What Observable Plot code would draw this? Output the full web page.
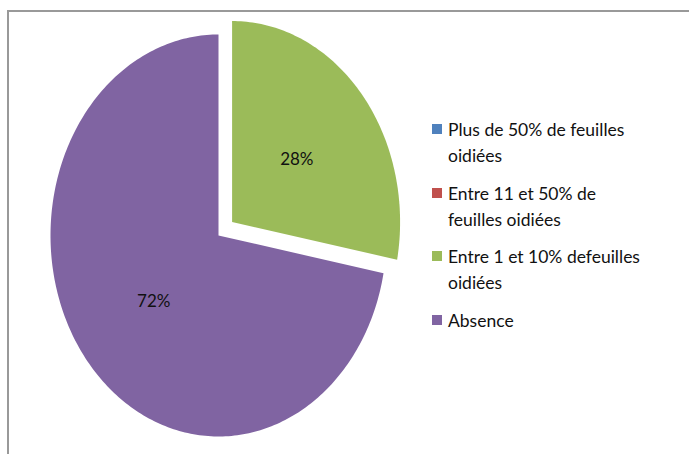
<!DOCTYPE html>
<html>
<head>
<meta charset="utf-8">
<script src="https://cdn.jsdelivr.net/npm/d3@7"></script>
<script src="https://cdn.jsdelivr.net/npm/@observablehq/plot@0.6"></script>
<style>
  html, body { margin: 0; padding: 0; width: 689px; height: 454px; overflow: hidden; background: #fff; }
  #frame { position: absolute; left: 7px; top: 10px; width: 760px; height: 520px; border: 2px solid #999; box-sizing: border-box; }
  #chart { position: absolute; left: 0; top: 0; }
  #legend { position: absolute; left: 432px; top: 117px; width: 216px; font-family: Lato, "Open Sans", sans-serif; font-size: 17.5px; color: #111; }
  .item { position: relative; padding-left: 16px; line-height: 26px; margin-bottom: 11.5px; }
  .sw { position: absolute; left: 0; top: 7px; width: 10px; height: 10px; }
</style>
</head>
<body>
<div id="frame"></div>
<div id="chart"></div>
<div id="legend"></div>
<script>
const categories = [
  "Plus de 50% de feuilles oidiées",
  "Entre 11 et 50% de feuilles oidiées",
  "Entre 1 et 10% defeuilles oidiées",
  "Absence"
];
const values = [0, 0, 28, 72];
const colors = ["#4f81bd", "#c0504d", "#9bbb59", "#8064a2"];
const exploded = [false, false, true, false];

// build slice polygons (angles clockwise from 12 o'clock), starting with the green slice
const order = [2, 3, 0, 1];
const total = d3.sum(values);
const pts = [];
const labels = [];
let acc = 0;
for (const i of order) {
  const v = values[i];
  if (v <= 0) continue;
  const a0 = acc / total * 2 * Math.PI;
  const a1 = (acc + v) / total * 2 * Math.PI;
  acc += v;
  const am = (a0 + a1) / 2;
  const off = exploded[i] ? 0.105 : 0;
  const cx = off * Math.sin(am), cy = off * Math.cos(am);
  pts.push({k: categories[i], x: cx, y: cy});
  const n = Math.max(2, Math.ceil((a1 - a0) / (Math.PI / 180)));
  for (let j = 0; j <= n; j++) {
    const a = a0 + (a1 - a0) * j / n;
    pts.push({k: categories[i], x: cx + Math.sin(a), y: cy + Math.cos(a)});
  }
  labels.push({k: categories[i], x: cx + 0.5 * Math.sin(am), y: cy + 0.5 * Math.cos(am), t: v + "%"});
}

const plot = Plot.plot({
  width: 689,
  height: 454,
  margin: 0,
  style: {background: "transparent", overflow: "visible"},
  x: {domain: [-1, 1], range: [50, 386], axis: null},
  y: {domain: [-1, 1], range: [436, 34], axis: null},
  color: {domain: categories, range: colors},
  marks: [
    Plot.line(pts, {x: "x", y: "y", z: "k", fill: "k", stroke: "none", curve: "linear-closed"}),
    Plot.text(labels, {x: "x", y: "y", dy: 2, text: "t", fontSize: 17, fill: "#111", fontFamily: "Lato, 'Open Sans', sans-serif"})
  ]
});
document.getElementById("chart").appendChild(plot);

const lg = document.getElementById("legend");
categories.forEach((c, i) => {
  const d = document.createElement("div");
  d.className = "item";
  const s = document.createElement("span");
  s.className = "sw";
  s.style.background = colors[i];
  d.appendChild(s);
  d.appendChild(document.createTextNode(c));
  lg.appendChild(d);
});
</script>
</body>
</html>
